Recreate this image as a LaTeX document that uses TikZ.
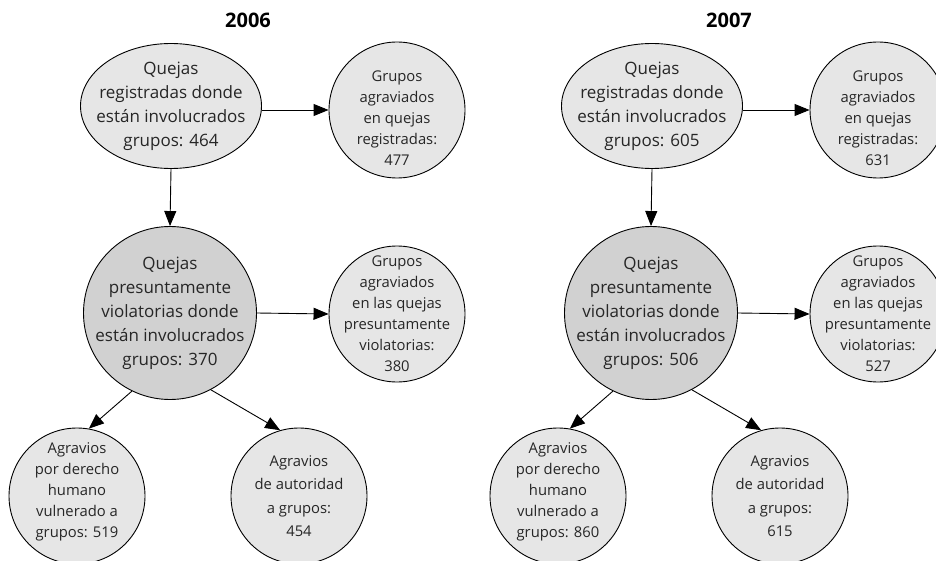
\documentclass[tikz,border=0pt]{standalone}
\usepackage{fontspec}
\setmainfont{Open Sans}
\usetikzlibrary{shapes.geometric,arrows.meta}
\definecolor{lightg}{RGB}{230,230,230}
\definecolor{darkg}{RGB}{209,209,209}
\tikzset{
  base/.style={draw=black, line width=0.9pt, inner sep=0pt},
  topell/.style={base, ellipse, fill=lightg, minimum width=181pt, minimum height=125pt},
  bigc/.style={base, circle, fill=darkg, minimum size=173pt},
  smc/.style={base, circle, fill=lightg, minimum size=136pt},
  bigtxt/.style={align=center, inner sep=0pt, font=\fontsize{17}{24}\selectfont, text=black!85},
  smtxt/.style={align=center, inner sep=0pt, font=\fontsize{14.8}{21}\selectfont, text=black!85},
  ttl/.style={inner sep=0pt, font=\fontsize{20}{22}\selectfont\bfseries},
  arr/.style={line width=0.9pt, -{Triangle[length=15pt,width=12pt]}},
}
\begin{document}
\begin{tikzpicture}[x=1pt,y=-1pt]
\useasboundingbox (0,0) rectangle (936,561);
\clip (0,0) rectangle (936,561);
\foreach \dx/\yr/\na/\nb/\nc/\nd/\ne/\nf/\lab in
  {0/2006/464/477/370/380/519/454/a, 481/2007/605/631/506/527/860/615/b}{
  \begin{scope}[xshift=\dx pt]
  \node[ttl] (t\lab) at (248,20) {\yr};
  \node[topell] (q\lab) at (171,106) {};
  \node[bigtxt] at (q\lab.center) {Quejas\\registradas donde\\están involucrados\\grupos: \na};
  \node[smc] (g\lab) at (397,110) {};
  \node[smtxt] at ([yshift=-8pt]g\lab.center) {Grupos\\agraviados\\en quejas\\registradas:\\\nb};
  \node[bigc] (p\lab) at (170,313) {};
  \node[bigtxt] at (p\lab.center) {Quejas\\presuntamente\\violatorias donde\\están involucrados\\grupos: \nc};
  \node[smc] (v\lab) at (397,314) {};
  \node[smtxt] at (v\lab.center) {Grupos\\agraviados\\en las quejas\\presuntamente\\violatorias:\\\nd};
  \node[smc] (h\lab) at (77,496) {};
  \node[smtxt] at ([yshift=4pt]h\lab.center) {Agravios\\por derecho\\humano\\vulnerado a\\grupos: \ne};
  \node[smc] (d\lab) at (299,496) {};
  \node[smtxt, font=\fontsize{14.8}{23.5}\selectfont] at (d\lab.center) {Agravios\\de autoridad\\a grupos:\\\nf};
  \draw[arr] (q\lab.east |- g\lab.west) -- (g\lab.west);
  \draw[arr] (q\lab.south) -- (p\lab.north);
  \draw[arr] (p\lab.east) -- (v\lab.west);
  \draw[arr] (p\lab.-116) -- (h\lab.80);
  \draw[arr] (p\lab.-62) -- (d\lab.106);
  \end{scope}
}
\end{tikzpicture}
\end{document}
